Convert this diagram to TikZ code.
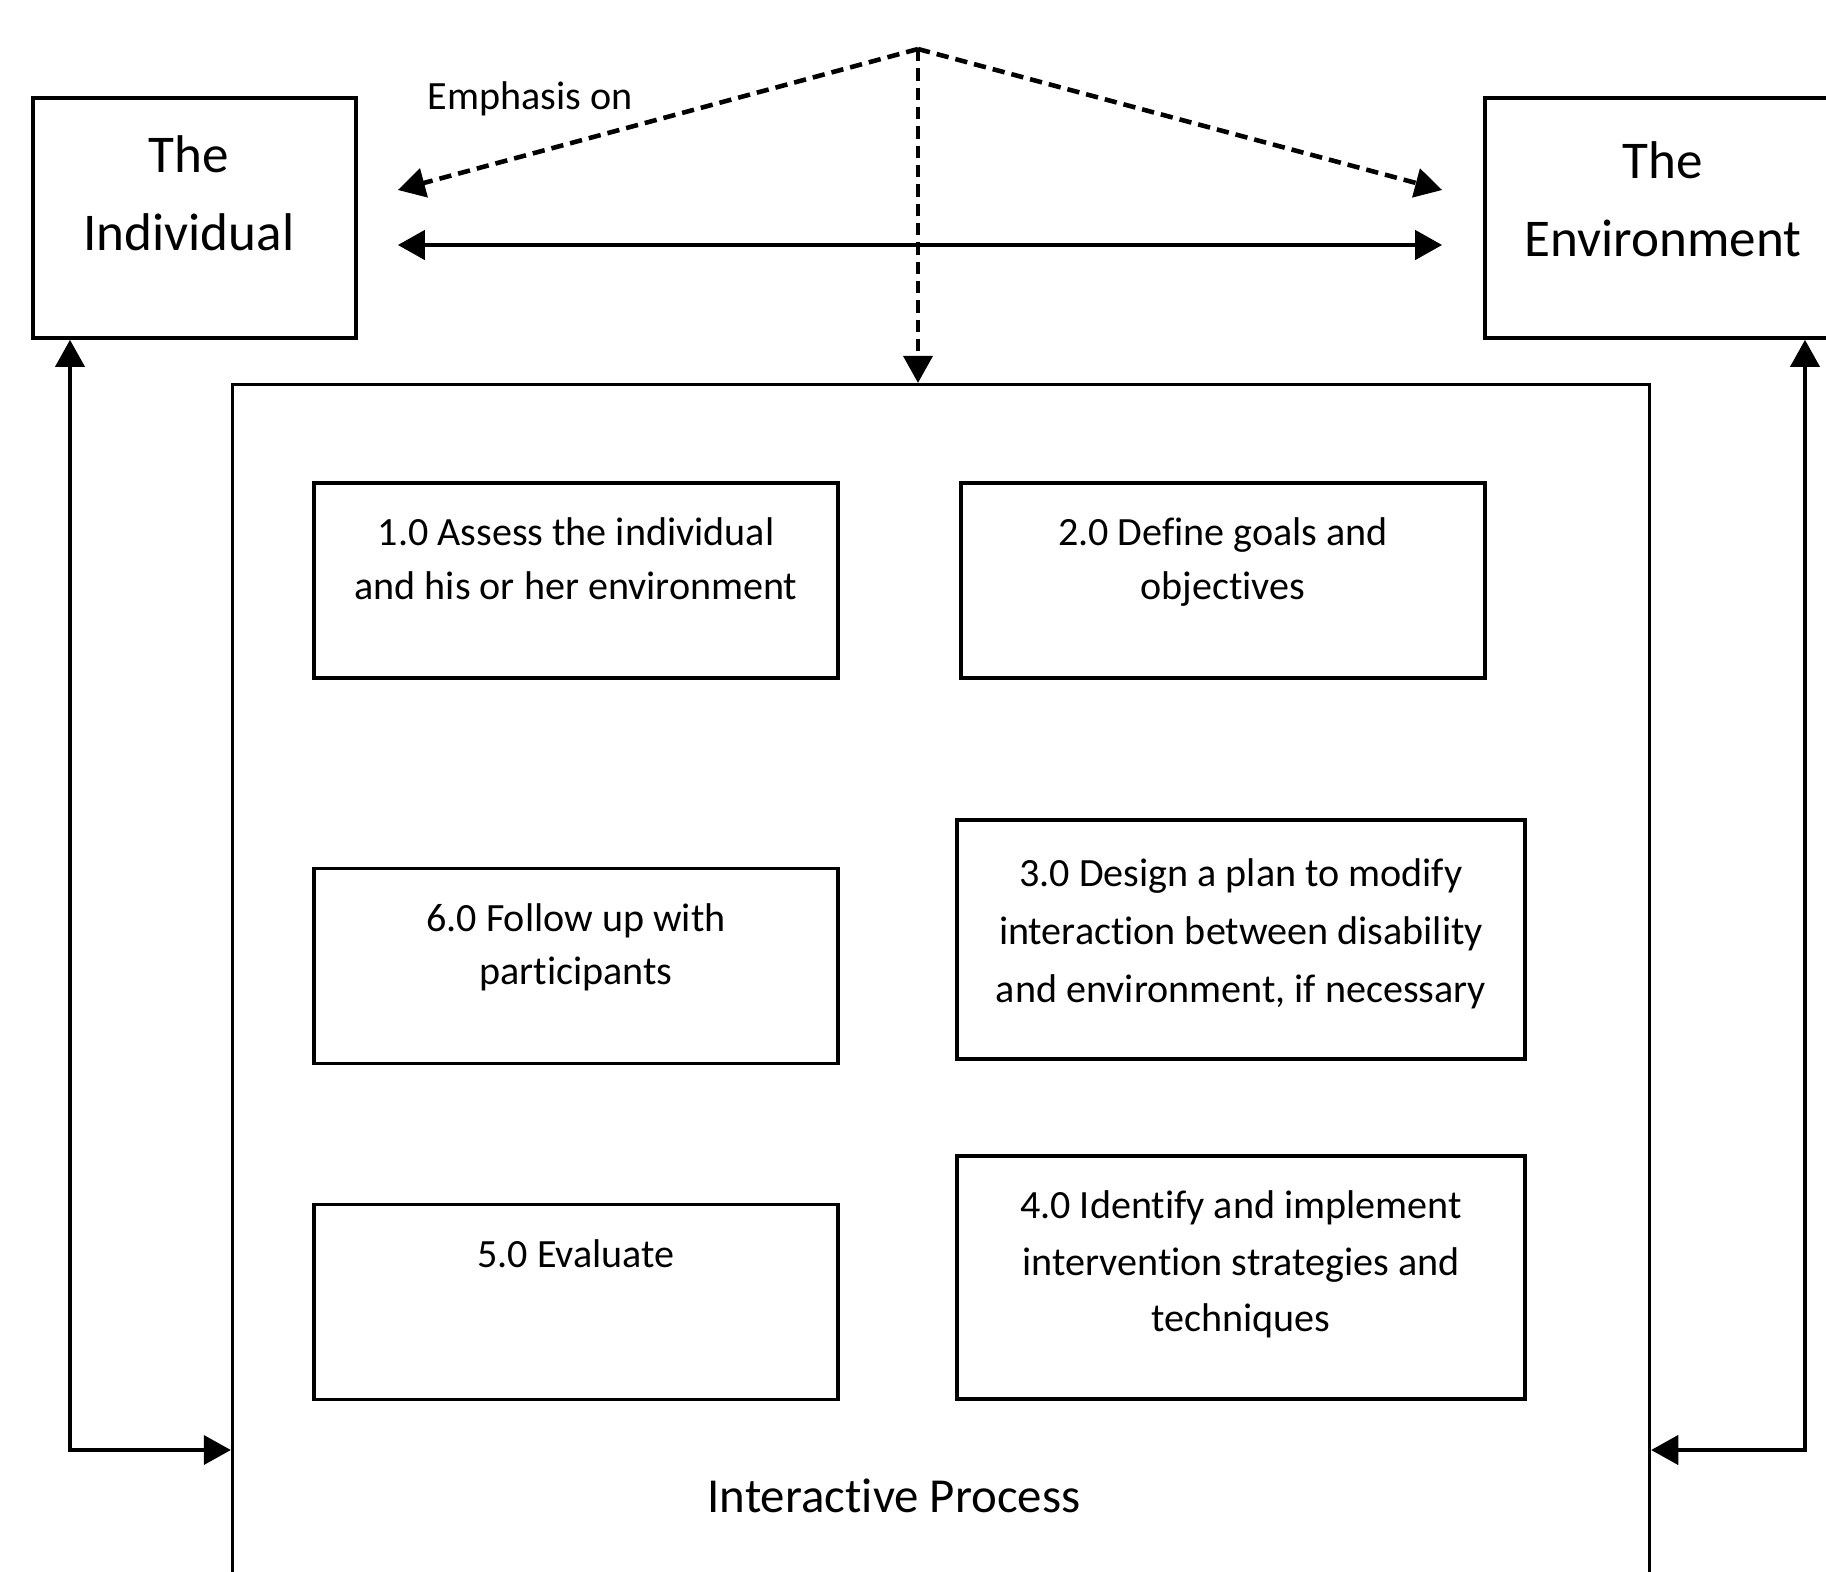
\documentclass[tikz,border=0pt]{standalone}
\usepackage{fontspec}
\setmainfont[Ligatures=NoCommon]{Carlito}
\usetikzlibrary{arrows.meta,positioning,calc}

\begin{document}
\begin{tikzpicture}[x=0.01cm,y=-0.01cm,font=\fontsize{11.4}{15.2}\selectfont,>={Triangle[length=7.7pt,width=8.3pt]},line width=1pt]
  \tikzstyle{big}=[draw,rectangle,minimum width=3.23cm,minimum height=2.4cm]
  \tikzstyle{stage}=[draw,rectangle,minimum width=5.24cm,minimum height=1.95cm]
  \tikzstyle{wide}=[stage,minimum width=5.68cm]
  \tikzstyle{txt}=[align=center,inner sep=0pt]
  \tikzstyle{headtxt}=[txt,font=\fontsize{15.1}{22.3}\selectfont]
  \tikzstyle{dsh}=[dash pattern=on 3.5pt off 2pt]
  \useasboundingbox (0,0) rectangle (1826,1572);
  % the two sides and the process
  \node[big] (ind) at (194.5,218) {};
  \node[big,minimum width=3.56cm] (env) at (1663,218) {};
  \node[draw,minimum width=14.16cm,minimum height=12.25cm] (proc) at (941,997.5) {};
  \node[headtxt] (indt) at (189,193) {The\\Individual};
  \node[headtxt] (envt) at (1663,199) {The\\Environment};
  \node (emph) at (530,99) {Emphasis on};
  \node[font=\fontsize{13.9}{17}\selectfont] (iptxt) at (894,1496) {Interactive Process};
  % steps
  \node[stage] (s1) at (576,580.5) {};
  \node[stage] (s2) at (1223,580.5) {};
  \node[wide,minimum height=2.39cm] (s3) at (1241,939.5) {};
  \node[wide,minimum height=2.43cm] (s4) at (1241,1277.5) {};
  \node[stage] (s5) at (576,1302) {};
  \node[stage] (s6) at (576,966) {};
  \node[txt,below=0.35cm of s1.north] (t1) {1.0 Assess the individual\\and his or her environment};
  \node[txt,below=0.35cm of s2.north] (t2) {2.0 Define goals and\\objectives};
  \node[txt,below=0.39cm of s3.north,font=\fontsize{11.4}{16.4}\selectfont] (t3) {3.0 Design a plan to modify\\interaction between disability\\and environment, if necessary};
  \node[txt,below=0.35cm of s4.north,font=\fontsize{11.4}{16}\selectfont] (t4) {4.0 Identify and implement\\intervention strategies and\\techniques};
  \node[txt,below=0.35cm of s5.north] (t5) {5.0 Evaluate};
  \node[txt,below=0.35cm of s6.north] (t6) {6.0 Follow up with\\participants};
  % arrows
  \coordinate (top) at (918,49);
  \coordinate (fbl) at (70,1450);
  \coordinate (fbr) at (1805,1450);
  \draw[->,dsh,line width=1.3pt] (top) -- ($(ind.east)+(40,-28)$);
  \draw[->,dsh,line width=1.3pt] (top) -- ($(env.west)+(-41,-28)$);
  \draw[->,dsh] (top) -- (top |- proc.north);
  \draw[<->,line width=1.2pt] ($(ind.east)+(40,27)$) -- ($(env.west)+(-41,27)$);
  \draw[<->] (ind.south -| fbl) -- (fbl) -- (fbl -| proc.west);
  \draw[<->] (env.south -| fbr) -- (fbr) -- (fbr -| proc.east);
\end{tikzpicture}
\end{document}
